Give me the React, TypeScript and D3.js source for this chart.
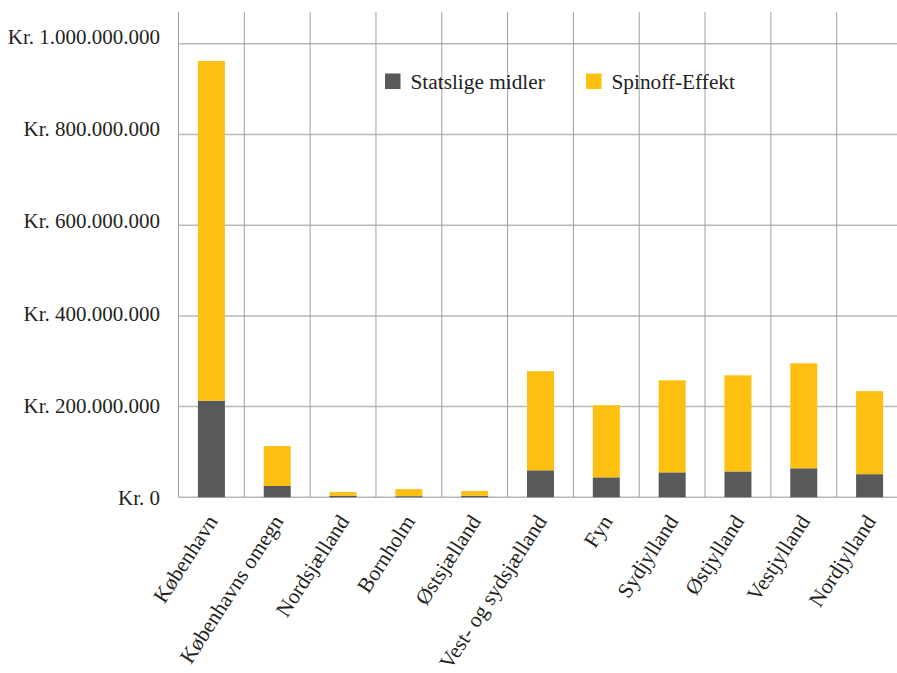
import React, { useEffect, useRef } from 'react';
import * as d3 from 'd3';

const regions = [
  'København',
  'Københavns omegn',
  'Nordsjælland',
  'Bornholm',
  'Østsjælland',
  'Vest- og sydsjælland',
  'Fyn',
  'Sydjylland',
  'Østjylland',
  'Vestjylland',
  'Nordjylland',
];
// millions of kroner
const statsligeMidler = [213, 25, 3.5, 2.5, 3.5, 59.5, 44, 55, 57, 64, 51];
const spinoffEffekt = [749, 88, 8, 15.5, 10.5, 218.5, 159, 203, 212, 231.5, 183];
const yTicks = [0, 200, 400, 600, 800, 1000];
const seriesNames = ['Statslige midler', 'Spinoff-Effekt'];
const seriesColors = ['#58595b', '#fdc010'];

const fmtKr = (m: number) => {
  if (m === 0) return 'Kr. 0';
  const s = String(m * 1000000);
  return 'Kr. ' + s.replace(/\B(?=(\d{3})+(?!\d))/g, '.');
};

const App: React.FC = () => {
  const svgRef = useRef<SVGSVGElement | null>(null);

  useEffect(() => {
    if (!svgRef.current) return;
    const svg = d3.select(svgRef.current);
    svg.selectAll('*').remove();

    const font = '"Liberation Serif", "DejaVu Serif", serif';
    const left = 178.5;
    const right = 902.5;
    const top = 12;
    const bottom = 497.3;

    const x = d3.scaleBand<string>().domain(regions).range([left, right]).paddingInner(0).paddingOuter(0);
    const y = d3.scaleLinear().domain([0, 1000]).range([bottom, 43.8]);
    const barW = 27;

    // horizontal gridlines
    svg
      .append('g')
      .selectAll('line')
      .data(yTicks)
      .join('line')
      .attr('x1', left)
      .attr('x2', right)
      .attr('y1', (d) => y(d))
      .attr('y2', (d) => y(d))
      .attr('stroke', '#b8b8b8')
      .attr('stroke-width', 1.5);

    // vertical gridlines at category boundaries
    svg
      .append('g')
      .selectAll('line')
      .data(regions)
      .join('line')
      .attr('x1', (d) => x(d) as number)
      .attr('x2', (d) => x(d) as number)
      .attr('y1', top)
      .attr('y2', bottom)
      .attr('stroke', '#a0a0a0')
      .attr('stroke-width', 1);

    // stacked bars
    const rows = regions.map((r, i) => ({ region: r, a: statsligeMidler[i], b: spinoffEffekt[i] }));
    const stack = d3.stack<{ region: string; a: number; b: number }>().keys(['a', 'b'])(rows);
    stack.forEach((layer, li) => {
      svg
        .append('g')
        .attr('fill', seriesColors[li])
        .selectAll('rect')
        .data(layer)
        .join('rect')
        .attr('x', (d) => (x(d.data.region) as number) + x.bandwidth() / 2 - barW / 2)
        .attr('width', barW)
        .attr('y', (d) => y(d[1]))
        .attr('height', (d) => y(d[0]) - y(d[1]));
    });

    // y tick labels (they drift a little upward relative to the gridlines in the original)
    svg
      .append('g')
      .selectAll('text')
      .data(yTicks)
      .join('text')
      .attr('x', 160)
      .attr('y', (d) => y(d) + 7.7 - (d / 1000) * 7.5)
      .attr('text-anchor', 'end')
      .attr('font-family', font)
      .attr('font-size', 21)
      .attr('fill', '#231f20')
      .text((d) => fmtKr(d));

    // x labels
    svg
      .append('g')
      .selectAll('text')
      .data(regions)
      .join('text')
      .attr('transform', (d) => `translate(${(x(d) as number) + x.bandwidth() / 2 + 7},${bottom + 24}) rotate(-57)`)
      .attr('text-anchor', 'end')
      .attr('font-family', font)
      .attr('font-size', 21.5)
      .attr('fill', '#231f20')
      .text((d) => d);

    // legend
    const legendX = [385, 586];
    const legend = svg
      .append('g')
      .selectAll('g')
      .data(seriesNames)
      .join('g')
      .attr('transform', (_, i) => `translate(${legendX[i]},73.5)`);
    legend
      .append('rect')
      .attr('width', 15.5)
      .attr('height', 15.5)
      .attr('fill', (_, i) => seriesColors[i]);
    legend
      .append('text')
      .attr('x', 25.5)
      .attr('y', 15.5)
      .attr('font-family', font)
      .attr('font-size', 21.3)
      .attr('fill', '#231f20')
      .text((d) => d);
  }, []);

  return (
    <svg
      ref={svgRef}
      width={897}
      height={673}
      style={{ position: 'absolute', left: 0, top: 0, background: '#fff' }}
    />
  );
};

export default App;
